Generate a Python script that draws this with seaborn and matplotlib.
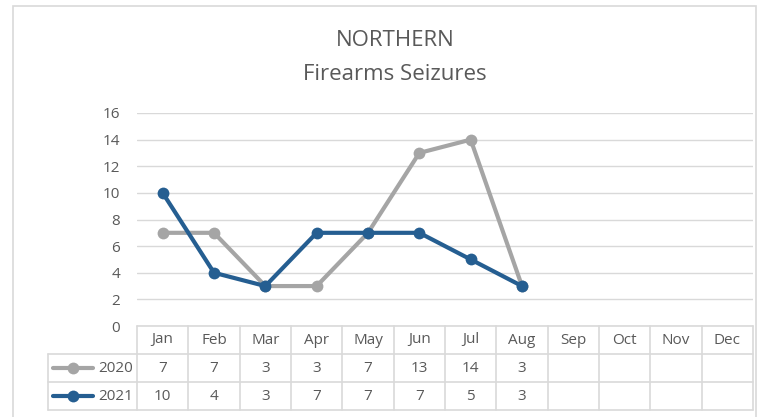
import numpy as np
import pandas as pd
import matplotlib.pyplot as plt
from matplotlib.patches import Rectangle
from matplotlib.lines import Line2D
import seaborn as sns

months = ["Jan", "Feb", "Mar", "Apr", "May", "Jun",
          "Jul", "Aug", "Sep", "Oct", "Nov", "Dec"]
seizures_2020 = [7, 7, 3, 3, 7, 13, 14, 3]
seizures_2021 = [10, 4, 3, 7, 7, 7, 5, 3]
series_names = ["2020", "2021"]
y_ticks = [0, 2, 4, 6, 8, 10, 12, 14, 16]

GREY = "#A5A5A5"
BLUE = "#255E91"
TEXT = "#595959"
GRID = "#D9D9D9"

sns.set_theme(style="white")
plt.rcParams["font.family"] = ["Open Sans", "DejaVu Sans"]

W, H = 763, 417
fig = plt.figure(figsize=(W / 100, H / 100), dpi=100)


def fx(px):
    return px / W


def fy(py):
    return 1 - py / H


# outer chart border
fig.patches.append(Rectangle((fx(13), fy(440)), fx(756) - fx(13), fy(6) - fy(440),
                             transform=fig.transFigure, fill=False,
                             edgecolor=GRID, linewidth=1.2))

# main plot area
x0, x1, ytop, ybot = 137, 753, 113, 326
ax = fig.add_axes([fx(x0), fy(ybot), fx(x1) - fx(x0), fy(ytop) - fy(ybot)])

rows = []
for name, vals in zip(series_names, [seizures_2020, seizures_2021]):
    for i, v in enumerate(vals):
        rows.append({"month": i, "value": v, "year": name})
df = pd.DataFrame(rows)

sns.lineplot(data=df, x="month", y="value", hue="year",
             palette={"2020": GREY, "2021": BLUE}, marker="o",
             markersize=8.5, markeredgewidth=0, linewidth=3,
             legend=False, ax=ax)

ax.set_xlim(-0.5, 11.5)
ax.set_ylim(0, 16)
ax.set_yticks(y_ticks)
ax.set_yticklabels([str(t) for t in y_ticks], fontsize=11, color=TEXT)
ax.set_xticks([])
ax.set_xlabel("")
ax.set_ylabel("")
ax.tick_params(axis="y", length=0, pad=12)
ax.yaxis.grid(True, color=GRID, linewidth=1)
for s in ax.spines.values():
    s.set_visible(False)

# title
fig.text(fx(395), fy(40), "NORTHERN", ha="center", va="center",
         fontsize=16, color=TEXT)
fig.text(fx(395), fy(75), "Firearms Seizures", ha="center", va="center",
         fontsize=16, color=TEXT)

# data table underneath
col_w = (x1 - x0) / 12
left_px = 48
tax = fig.add_axes([fx(left_px), fy(410), fx(x1) - fx(left_px), fy(326) - fy(410)])
lead = (x0 - left_px) / col_w
tax.set_xlim(-0.5 - lead, 11.5)
tax.set_ylim(3, 0)
tax.axis("off")

lk = dict(color=GRID, linewidth=1.2, clip_on=False)
# horizontal rules
tax.plot([-0.5, 11.5], [0, 0], **lk)
for r in (1, 2, 3):
    tax.plot([-0.5 - lead, 11.5], [r, r], **lk)
# vertical rules
tax.plot([-0.5 - lead, -0.5 - lead], [1, 3], **lk)
for c in range(13):
    tax.plot([c - 0.5, c - 0.5], [0, 3], **lk)

for i, m in enumerate(months):
    tax.text(i, 0.5, m, ha="center", va="center", fontsize=11, color=TEXT)

for r, (name, vals, col) in enumerate(zip(series_names,
                                          [seizures_2020, seizures_2021],
                                          [GREY, BLUE]), start=1):
    for i, v in enumerate(vals):
        tax.text(i, r + 0.5, str(v), ha="center", va="center",
                 fontsize=11, color=TEXT)
    # legend key
    kx0 = -0.5 - lead + 5 / col_w
    kx1 = -0.5 - lead + 45 / col_w
    tax.add_line(Line2D([kx0, kx1], [r + 0.5, r + 0.5], color=col,
                        linewidth=3, clip_on=False))
    tax.plot([(kx0 + kx1) / 2], [r + 0.5], marker="o", markersize=8.5,
             markeredgewidth=0, color=col, clip_on=False)
    tax.text(-0.5 - 4 / col_w, r + 0.5, name, ha="right", va="center",
             fontsize=11, color=TEXT)

fig.savefig("out.png", dpi=100, facecolor="white")
